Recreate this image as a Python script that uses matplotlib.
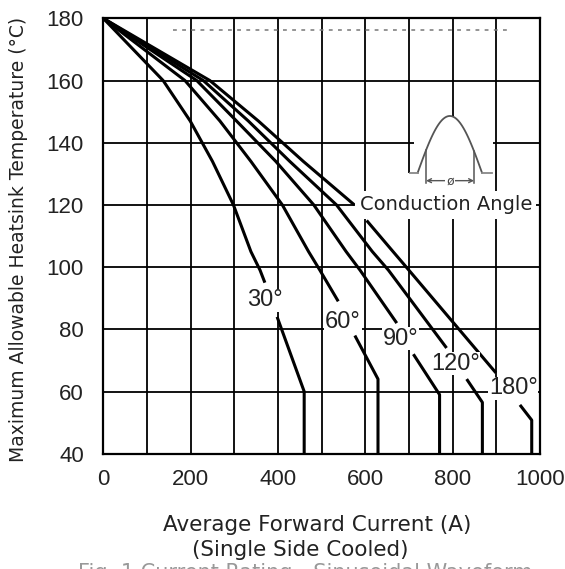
import numpy as np
import matplotlib
matplotlib.use("Agg")
import matplotlib.pyplot as plt
from matplotlib.patches import Rectangle

# Maximum allowable heatsink temperature vs average forward current
# each curve: upper part (above its label) and lower part (below its label)
angles = ["30°", "60°", "90°", "120°", "180°"]

up_30_x = [0, 137, 199, 250, 298, 338, 359, 370]
up_30_y = [180, 160, 147, 134, 120, 105, 99, 95]
lo_30_x = [398, 460, 460]
lo_30_y = [84, 60, 40]

up_60_x = [0, 187, 267, 338, 410, 470, 496, 538]
up_60_y = [180, 160, 147, 134, 120, 105, 99, 89]
lo_60_x = [576, 629, 629]
lo_60_y = [78, 64, 40]

up_90_x = [0, 214, 305, 395, 482, 556, 588, 672]
up_90_y = [180, 160, 147, 134, 120, 105, 99, 82]
lo_90_x = [710, 770, 770]
lo_90_y = [72, 59, 40]

up_120_x = [0, 229, 332, 427, 534, 616, 653, 786]
up_120_y = [180, 160, 147, 134, 120, 105, 99, 74]
lo_120_x = [832, 868, 868]
lo_120_y = [64, 56.5, 40]

# 180 deg curve is also cut by the "Conduction Angle" note
up_180_x = [0, 244, 355, 458, 575]
up_180_y = [180, 160, 147, 134, 120]
mid_180_x = [603, 661, 692, 899]
mid_180_y = [115, 105.4, 100.3, 66]
lo_180_x = [954, 981, 981]
lo_180_y = [55.7, 50.8, 40]

label_x = [369, 549, 680, 806, 939]
label_y = [89.3, 82.3, 77, 69, 61]

xticks = [0, 200, 400, 600, 800, 1000]
yticks = [40, 60, 80, 100, 120, 140, 160, 180]

num_font = ['Liberation Sans Narrow', 'Liberation Sans', 'DejaVu Sans']
txt_font = ['DejaVu Sans']

fig = plt.figure(figsize=(5.65, 5.69), dpi=100)
ax = fig.add_axes([0.1828, 0.2026, 0.773, 0.7652])
ax.set_xlim(0, 1000)
ax.set_ylim(40, 180)

# grid drawn by hand so that it sits under the white masks
for gx in range(100, 1000, 100):
    if gx == 800:
        continue
    ax.axvline(gx, color='black', lw=1.3, zorder=1)
ax.plot([800, 800], [40, 148.6], color='black', lw=1.3, zorder=1)
ax.plot([800, 800], [148.6, 180], color='black', lw=1.3, zorder=3)
for gy in range(60, 180, 20):
    ax.axhline(gy, color='black', lw=1.3, zorder=1)

ups = [(up_30_x, up_30_y), (up_60_x, up_60_y), (up_90_x, up_90_y),
       (up_120_x, up_120_y), (up_180_x, up_180_y), (mid_180_x, mid_180_y)]
los = [(lo_30_x, lo_30_y), (lo_60_x, lo_60_y), (lo_90_x, lo_90_y),
       (lo_120_x, lo_120_y), (lo_180_x, lo_180_y)]
for xs, ys in ups + los:
    ax.plot(xs, ys, color='black', lw=2.2, solid_capstyle='butt', zorder=4)

for name, lx, ly in zip(angles, label_x, label_y):
    ax.text(lx, ly, name, ha='center', va='center', fontsize=17, family=num_font,
            color='#222222', zorder=5,
            bbox=dict(facecolor='white', edgecolor='none', pad=0.5))

ax.text(784, 120, "Conduction Angle", ha='center', va='center', fontsize=14,
        family=txt_font, color='#222222', zorder=5,
        bbox=dict(facecolor='white', edgecolor='none', pad=3.0))

# waveform icon
ax.add_patch(Rectangle((712, 124), 181, 24.5, facecolor='white', edgecolor='none', zorder=2))
ax.add_patch(Rectangle((695, 124), 20, 6.3, facecolor='white', edgecolor='none', zorder=2))
t = np.linspace(0, np.pi, 60)
wx = 720 + (867 - 720) * t / np.pi
wy = 130.4 + (148.6 - 130.4) * np.sin(t)
ax.plot(wx, wy, color='#555555', lw=1.3, zorder=3)
ax.plot([702, 720], [130.4, 130.4], color='#888888', lw=1.3, zorder=3)
ax.plot([867, 890], [130.4, 130.4], color='#888888', lw=1.3, zorder=3)
for cx in [739, 849]:
    cy = 130.4 + (148.6 - 130.4) * np.sin((cx - 720) / (867 - 720) * np.pi)
    ax.plot([cx, cx], [127.2, cy], color='#555555', lw=1.1, zorder=3)
ax.annotate('', xy=(739, 127.8), xytext=(849, 127.8),
            arrowprops=dict(arrowstyle='<->', color='#555555', lw=1.0,
                            shrinkA=0, shrinkB=0, mutation_scale=7), zorder=3)
ax.text(794, 127.8, "ø", ha='center', va='center', fontsize=9, color='#444444',
        zorder=4, bbox=dict(facecolor='white', edgecolor='none', pad=0.5))

# remains of an erased line of text near the top
ax.plot([160, 930], [176.2, 176.2], color='#777777', lw=1.1, ls=(0, (2.5, 3.5)), zorder=2)

for s in ax.spines.values():
    s.set_linewidth(1.6)
    s.set_zorder(6)

ax.set_xticks(xticks)
ax.set_yticks(yticks)
ax.tick_params(length=0)
ax.tick_params(axis='x', pad=11)
ax.tick_params(axis='y', pad=14)
for lab in ax.get_xticklabels() + ax.get_yticklabels():
    lab.set_fontsize(16)
    lab.set_family(num_font)
    lab.set_color('#222222')

fig.text(0.033, 0.58, "Maximum Allowable Heatsink Temperature (°C)", rotation=90,
         ha='center', va='center', fontsize=13.5, family=txt_font, color='#222222')
fig.text(0.561, 0.0773, "Average Forward Current (A)", ha='center', va='center',
         fontsize=15.5, family=txt_font, color='#222222')
fig.text(0.531, 0.0334, "(Single Side Cooled)", ha='center', va='center',
         fontsize=15.5, family=txt_font, color='#222222')
fig.text(0.54, 1 - 563 / 569, "Fig. 1 Current Rating - Sinusoidal Waveform",
         ha='center', va='top', fontsize=15, family=txt_font, color='#999999')

fig.savefig("out.png", dpi=100)
